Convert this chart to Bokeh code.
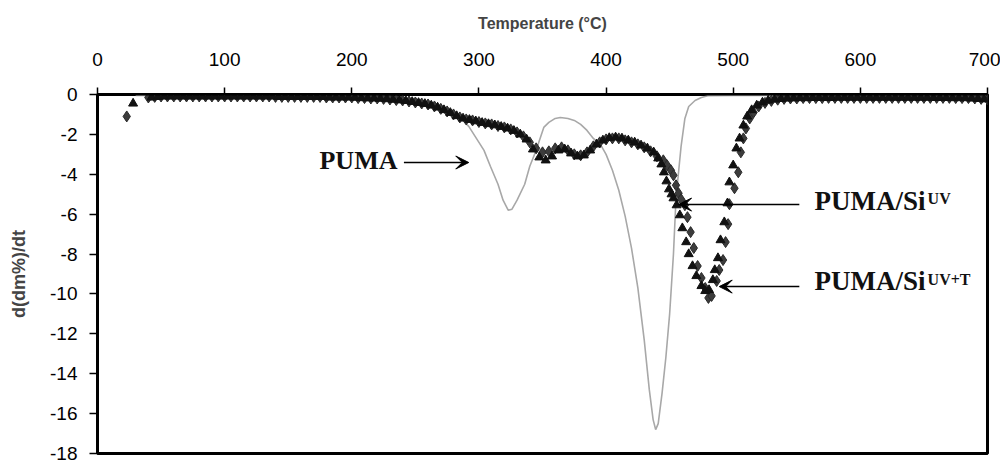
from bokeh.plotting import figure
from bokeh.models import Range1d, FixedTicker, Label, Arrow, VeeHead
from bokeh.embed import file_html
from bokeh.resources import INLINE

# ---------------- data ----------------
x_ticks = [0, 100, 200, 300, 400, 500, 600, 700]
y_ticks = [0, -2, -4, -6, -8, -10, -12, -14, -16, -18]
y_tick_labels = ["0", "-2", "-4", "-6", "-8", "-10", "-12", "-14", "-16", "-18"]

# PUMA (thin grey line)
puma_t = [30, 100, 150, 200, 230, 250, 265, 275, 285, 292, 298, 304, 309, 315, 319,
          323, 326, 330, 336, 340, 345, 351, 355, 360, 364, 370, 375, 380, 385, 390,
          396, 400, 405, 410, 415, 420, 425, 430, 434, 437, 439, 441, 444, 447, 450,
          453, 455, 457, 459, 462, 465, 470, 475, 480, 500, 600, 700]
puma_v = [-0.05, -0.05, -0.05, -0.08, -0.15, -0.25, -0.45, -0.7, -1.15, -1.6, -2.2, -2.8, -3.6, -4.5, -5.3,
          -5.8, -5.75, -5.3, -4.5, -3.6, -2.8, -1.65, -1.4, -1.2, -1.15, -1.2, -1.3, -1.5, -1.8, -2.2,
          -2.55, -3.0, -3.8, -4.8, -6.1, -7.7, -9.7, -12.3, -14.8, -16.3, -16.8, -16.5, -15.0, -13.2, -11.0,
          -8.0, -5.2, -3.9, -2.6, -1.2, -0.6, -0.3, -0.15, -0.06, -0.05, -0.05, -0.05]

# PUMA/Si UV (diamonds)
uv_t = [23, 40, 45, 50, 55, 60, 65, 70, 75, 80, 85, 90, 95, 100, 105, 110, 115, 120, 125, 130,
        135, 140, 145, 150, 155, 160, 165, 170, 175, 180, 185, 190, 195, 200, 205, 210, 215, 220,
        225, 230, 235, 240, 245, 250, 255, 260, 265, 270, 275, 280, 285, 290, 295, 300, 305, 310,
        315, 320, 325, 330, 335, 340, 345, 350, 355, 360, 365, 370, 375, 380, 385, 390, 395, 400,
        405, 410, 415, 420, 425, 430, 435, 440, 445, 448, 451, 453, 455, 457, 459, 462, 464, 466.5,
        469, 472, 475, 478, 480.5, 483, 487, 489, 492, 494, 496, 497, 501, 504, 506, 508, 510, 513,
        516, 520, 525, 530, 535, 540, 545, 550, 555, 560, 565, 570, 575, 580, 585, 590, 595, 600,
        605, 610, 615, 620, 625, 630, 635, 640, 645, 650, 655, 660, 665, 670, 675, 680, 685, 690,
        695, 700]
uv_v = [-1.1, -0.15, -0.12, -0.1, -0.1, -0.1, -0.1, -0.1, -0.1, -0.1, -0.1, -0.1, -0.1, -0.1, -0.1, -0.1, -0.1, -0.1, -0.1, -0.1,
        -0.1, -0.12, -0.12, -0.12, -0.12, -0.12, -0.12, -0.12, -0.12, -0.15, -0.15, -0.15, -0.15, -0.15, -0.18, -0.18, -0.2, -0.2,
        -0.22, -0.25, -0.28, -0.3, -0.35, -0.4, -0.45, -0.5, -0.6, -0.72, -0.85, -1.0, -1.15, -1.25, -1.3, -1.38, -1.45, -1.5,
        -1.58, -1.65, -1.75, -1.9, -2.1, -2.4, -2.7, -2.9, -2.85, -2.7, -2.65, -2.8, -3.0, -3.05, -2.9, -2.6, -2.4, -2.25,
        -2.2, -2.2, -2.3, -2.4, -2.5, -2.65, -2.85, -3.1, -3.3, -3.55, -3.8, -4.05, -4.55, -4.95, -5.25, -5.55, -6.15, -6.9,
        -7.7, -8.6, -9.2, -9.7, -10.2, -10.1, -9.35, -8.8, -8.3, -7.4, -6.5, -5.5, -4.7, -3.9, -2.9, -2.2, -1.7, -1.2,
        -0.9, -0.6, -0.42, -0.32, -0.26, -0.22, -0.2, -0.2, -0.18, -0.18, -0.18, -0.18, -0.17, -0.17, -0.17, -0.17, -0.17, -0.17,
        -0.17, -0.17, -0.17, -0.17, -0.17, -0.17, -0.17, -0.17, -0.17, -0.17, -0.17, -0.17, -0.17, -0.17, -0.18, -0.18, -0.18, -0.2,
        -0.22, -0.25]

# PUMA/Si UV+T (triangles)
uvt_t = [28, 42.5, 47.5, 52.5, 57.5, 62.5, 67.5, 72.5, 77.5, 82.5, 87.5, 92.5, 97.5, 102.5, 107.5, 112.5, 117.5, 122.5,
         127.5, 132.5, 137.5, 142.5, 147.5, 152.5, 157.5, 162.5, 167.5, 172.5, 177.5, 182.5, 187.5, 192.5, 197.5, 202.5,
         207.5, 212.5, 217.5, 222.5, 227.5, 232.5, 237.5, 242.5, 247.5, 252.5, 257.5, 262.5, 267.5, 272.5, 277.5, 282.5,
         287.5, 292.5, 297.5, 302.5, 307.5, 312.5, 317.5, 322.5, 327.5, 332.5, 337.5, 342.5, 347.5, 352.5, 357.5, 362.5,
         367.5, 372.5, 377.5, 382.5, 387.5, 392.5, 397.5, 402.5, 407.5, 412.5, 417.5, 422.5, 427.5, 432.5, 437.5, 441,
         443.5, 445.5, 447.5, 449.5, 451.5, 453, 455.5, 458, 460, 463, 465, 468, 471, 475, 478, 481, 484, 485.5, 488, 490,
         493, 495.5, 497, 500, 502.5, 505, 508, 511, 514.5, 518.5, 523, 527.5, 532.5, 537.5, 542.5, 547.5, 552.5, 557.5,
         562.5, 567.5, 572.5, 577.5, 582.5, 587.5, 592.5, 597.5, 602.5, 607.5, 612.5, 617.5, 622.5, 627.5, 632.5, 637.5,
         642.5, 647.5, 652.5, 657.5, 662.5, 667.5, 672.5, 677.5, 682.5, 687.5, 692.5, 697.5]
uvt_v = [-0.45, -0.15, -0.12, -0.1, -0.1, -0.1, -0.1, -0.1, -0.1, -0.1, -0.1, -0.1, -0.1, -0.1, -0.1, -0.1, -0.1, -0.1,
         -0.1, -0.1, -0.1, -0.12, -0.12, -0.12, -0.12, -0.12, -0.12, -0.12, -0.12, -0.15, -0.15, -0.15, -0.15, -0.16,
         -0.18, -0.19, -0.2, -0.21, -0.23, -0.26, -0.29, -0.32, -0.37, -0.42, -0.47, -0.55, -0.65, -0.78, -0.92, -1.08,
         -1.2, -1.27, -1.34, -1.42, -1.48, -1.54, -1.62, -1.7, -1.82, -2.0, -2.25, -2.75, -3.15, -3.3, -3.1, -2.8,
         -2.75, -2.95, -3.1, -3.05, -2.8, -2.5, -2.3, -2.18, -2.15, -2.2, -2.3, -2.4, -2.55, -2.7, -2.9, -3.2,
         -3.5, -3.9, -4.35, -4.75, -5.0, -5.2, -5.55, -6.05, -6.7, -7.4, -8.0, -8.6, -9.1, -9.6, -9.85, -9.8, -9.3, -8.8, -8.2, -7.3,
         -6.4, -5.45, -4.4, -3.55, -2.7, -2.2, -1.55, -1.1, -0.78, -0.55, -0.4, -0.3, -0.25, -0.22, -0.2, -0.19, -0.18, -0.18,
         -0.17, -0.17, -0.17, -0.17, -0.16, -0.16, -0.16, -0.16, -0.16, -0.16, -0.16, -0.16, -0.16, -0.16, -0.16, -0.16,
         -0.16, -0.16, -0.16, -0.17, -0.17, -0.17, -0.18, -0.18, -0.18, -0.2, -0.22, -0.24]

# ---------------- figure ----------------
p = figure(width=1000, height=464, x_range=Range1d(0, 700), y_range=Range1d(-18, 0),
           x_axis_location="above", output_backend="svg", toolbar_location=None,
           min_border_left=97, min_border_right=13, min_border_top=94, min_border_bottom=11)
p.background_fill_color = "white"
p.border_fill_color = "white"
p.outline_line_color = "black"
p.outline_line_width = 3
p.xgrid.visible = False
p.ygrid.visible = False

xa = p.xaxis[0]
xa.ticker = FixedTicker(ticks=x_ticks)
xa.axis_label = "Temperature (°C)"
xa.axis_label_text_font = "Liberation Sans"
xa.axis_label_text_font_style = "bold"
xa.axis_label_text_font_size = "16px"
xa.axis_label_standoff = 18
xa.major_label_text_font = "Liberation Sans"
xa.major_label_text_font_size = "19px"
xa.major_label_text_color = "black"
xa.major_label_standoff = 22
xa.major_tick_in = 0
xa.major_tick_out = 7
xa.minor_tick_out = 0
xa.minor_tick_in = 0
xa.axis_line_width = 2
xa.major_tick_line_width = 1.5

ya = p.yaxis[0]
ya.ticker = FixedTicker(ticks=y_ticks)
ya.major_label_overrides = {t: s for t, s in zip(y_ticks, y_tick_labels)}
ya.axis_label = "d(dm%)/dt"
ya.axis_label_text_font = "Liberation Sans"
ya.axis_label_text_font_style = "bold"
ya.axis_label_text_font_size = "18px"
ya.axis_label_standoff = 18
ya.major_label_text_font = "Liberation Sans"
ya.major_label_text_font_size = "19px"
ya.major_label_text_color = "black"
ya.major_label_standoff = 12
ya.major_tick_in = 0
ya.major_tick_out = 8
ya.minor_tick_out = 0
ya.minor_tick_in = 0
ya.axis_line_width = 3
ya.major_tick_line_width = 1.5

# PUMA line
p.line(puma_t, puma_v, line_color="#a8a8a8", line_width=1.6)

# markers
p.scatter(uv_t, uv_v, marker="diamond", size=11, fill_color="#3c3c3c", line_color="#2a2a2a", line_width=1)
p.scatter(uvt_t, uvt_v, marker="triangle", size=9, fill_color="#111111", line_color="#111111", line_width=1)

# annotations
serif = "Liberation Serif"
p.add_layout(Label(x=174.6, y=-4.06, text="PUMA", text_font=serif, text_font_style="bold",
                   text_font_size="26px", text_color="#111111"))
p.add_layout(Arrow(end=VeeHead(size=13, fill_color="black", line_color="black"),
                   x_start=241, y_start=-3.41, x_end=292, y_end=-3.41,
                   line_color="black", line_width=1.5))

p.add_layout(Label(x=564, y=-6.07, text="PUMA/Si", text_font=serif, text_font_style="bold",
                   text_font_size="27px", text_color="#111111"))
p.add_layout(Label(x=564, y=-5.62, x_offset=113, text="UV", text_font=serif, text_font_style="bold",
                   text_font_size="16px", text_color="#111111"))
p.add_layout(Arrow(end=VeeHead(size=13, fill_color="black", line_color="black"),
                   x_start=552, y_start=-5.52, x_end=457, y_end=-5.52,
                   line_color="black", line_width=1.5))

p.add_layout(Label(x=564, y=-10.08, text="PUMA/Si", text_font=serif, text_font_style="bold",
                   text_font_size="27px", text_color="#111111"))
p.add_layout(Label(x=564, y=-9.7, x_offset=113, text="UV+T", text_font=serif, text_font_style="bold",
                   text_font_size="16px", text_color="#111111"))
p.add_layout(Arrow(end=VeeHead(size=13, fill_color="black", line_color="black"),
                   x_start=552, y_start=-9.63, x_end=489, y_end=-9.63,
                   line_color="black", line_width=1.5))

open("out.html", "w").write(file_html(p, INLINE))
